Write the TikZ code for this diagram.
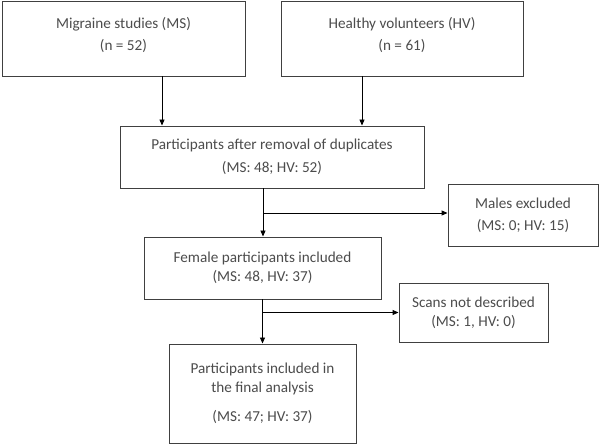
\documentclass[tikz,border=0pt]{standalone}
\usepackage{fontspec}
\setmainfont{Carlito}
\usetikzlibrary{arrows.meta,positioning}
\begin{document}
\begin{tikzpicture}[x=1pt,y=-1pt,
  box/.style={draw=black!75, line width=0.9pt, fill=white, inner sep=0pt, align=center,
    text=black!70, font=\fontsize{15.2}{19}\selectfont},
  lbl/.style={text=black!70, align=center, font=\fontsize{15.2}{22}\selectfont},
  arr/.style={line width=0.9pt, draw=black, -{Triangle[length=6pt,width=5pt]}},
  ln/.style={line width=0.9pt, draw=black}]
\useasboundingbox (0,0) rectangle (600,446);
\node[box, minimum width=243pt, minimum height=75pt,
  label={[lbl, yshift=4pt]center:Migraine studies (MS)\\(n = 52)}] (ms) at (123.5,38.5) {};
\node[box, minimum width=242pt, minimum height=75pt,
  label={[lbl, yshift=4pt]center:Healthy volunteers (HV)\\(n = 61)}] (hv) at (402,38.5) {};
\node[box, minimum width=304pt, minimum height=62pt] (dup) at (272,157)
  {Participants after removal of duplicates\\[4pt](MS: 48; HV: 52)};
\node[box, minimum width=150pt, minimum height=62pt] (males) at (523,215)
  {Males excluded\\[3pt](MS: 0; HV: 15)};
\node[box, minimum width=237pt, minimum height=62pt] (fem) at (262.5,268)
  {Female participants included\\(MS: 48, HV: 37)};
\node[box, minimum width=149pt, minimum height=59pt] (scans) at (473.5,312.5)
  {Scans not described\\(MS: 1, HV: 0)};
\node[box, minimum width=187pt, minimum height=99pt] (final) at (262.5,393.5)
  {Participants included in\\the final analysis\\[10pt](MS: 47; HV: 37)};
\coordinate (m1) at ([xshift=38.5pt]ms.south);
\coordinate (h1) at ([xshift=-40pt]hv.south);
\coordinate (d1) at ([xshift=-9pt]dup.south);
\coordinate (f1) at (fem.south);
\draw[arr] (m1) -- (m1 |- dup.north);
\draw[arr] (h1) -- (h1 |- dup.north);
\draw[arr] (d1) -- (d1 |- fem.north);
\coordinate (d2) at ([yshift=2pt]d1 |- males.west);
\draw[arr] (d2) -- (d2 -| males.west);
\draw[arr] (f1) -- (f1 |- final.north);
\coordinate (f2) at (f1 |- scans.west);
\draw[arr] (f2) -- (scans.west);
\end{tikzpicture}
\end{document}
